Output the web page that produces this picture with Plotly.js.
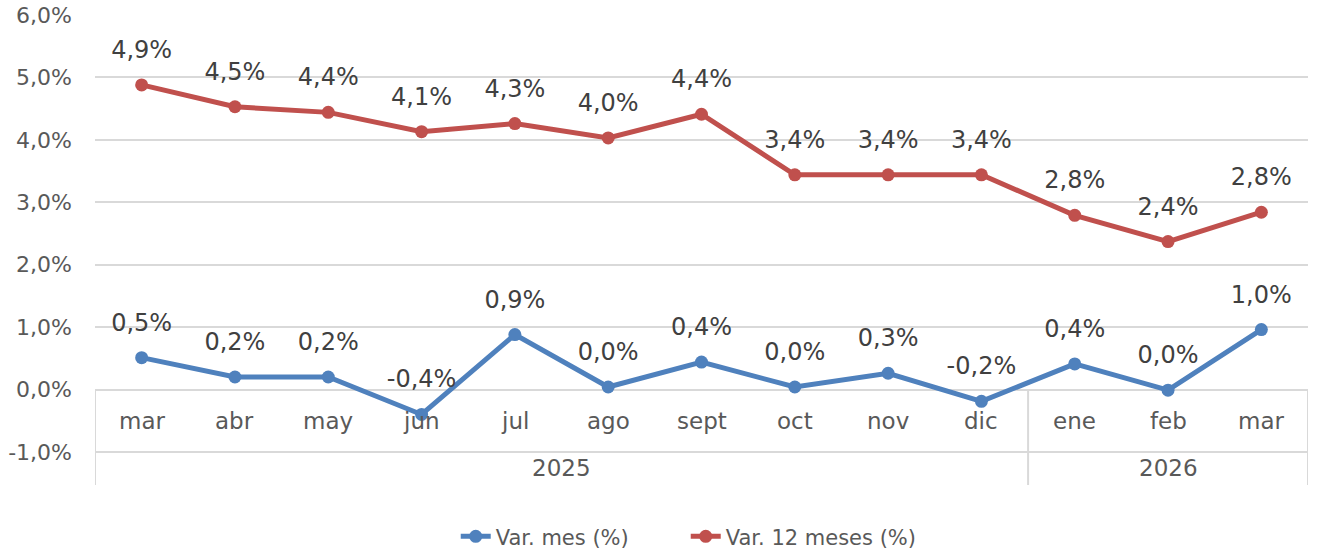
<!DOCTYPE html>
<html>
<head>
<meta charset="utf-8">
<script src="https://cdn.plot.ly/plotly-3.0.1.min.js"></script>
<style>html,body{margin:0;padding:0;background:#fff;}#chart{width:1323px;height:554px;}</style>
</head>
<body>
<div id="chart"></div>
<script>
const months = ["mar","abr","may","jun","jul","ago","sept","oct","nov","dic","ene","feb","mar"];
const years = ["2025","2025","2025","2025","2025","2025","2025","2025","2025","2025","2026","2026","2026"];
const varMes = [0.51, 0.20, 0.20, -0.40, 0.88, 0.04, 0.44, 0.04, 0.26, -0.19, 0.41, -0.01, 0.96];
const var12 = [4.88, 4.53, 4.44, 4.13, 4.26, 4.03, 4.41, 3.44, 3.44, 3.44, 2.79, 2.37, 2.84];
const yTicks = [-1, 0, 1, 2, 3, 4, 5, 6];

const fmt = v => {
  let s = v.toFixed(1);
  if (s === "-0.0") s = "0.0";
  return s.replace('.', ',') + '%';
};
const xIdx = months.map((m, i) => i);
const font = "DejaVu Sans, Verdana, sans-serif";
const textColor = "#595959";

function series(name, yv, color) {
  return [
    {
      name: name, x: xIdx, y: yv, type: "scatter", mode: "lines+markers",
      line: {color: color, width: 5}, marker: {color: color, size: 13},
      cliponaxis: false, hoverinfo: "skip"
    },
    {
      name: name + " labels", x: xIdx, y: yv, type: "scatter", mode: "markers+text",
      marker: {color: "rgba(0,0,0,0)", size: 32}, showlegend: false,
      text: yv.map(fmt), textposition: "top center",
      textfont: {family: font, size: 24, color: "#404040"}, cliponaxis: false, hoverinfo: "skip"
    }
  ];
}

const traces = [].concat(series("Var. mes (%)", varMes, "#4F81BD"), series("Var. 12 meses (%)", var12, "#C0504D"));
traces.sort((a, b) => (a.mode === "lines+markers" ? 0 : 1) - (b.mode === "lines+markers" ? 0 : 1));

const yBottom = -1.53;
const annotations = [];
months.forEach((m, i) => {
  annotations.push({x: i, y: -0.5, xref: "x", yref: "y", text: m, showarrow: false,
    font: {family: font, size: 23, color: textColor}});
});
const groups = [];
years.forEach((yv, i) => {
  const g = groups[groups.length - 1];
  if (g && g.year === yv) g.end = i; else groups.push({year: yv, start: i, end: i});
});
const shapes = [];
groups.forEach(g => {
  annotations.push({x: (g.start + g.end) / 2, y: -1.25, xref: "x", yref: "y", text: g.year,
    showarrow: false, font: {family: font, size: 23, color: textColor}});
});
const bounds = [-0.5].concat(groups.map(g => g.end + 0.5));
bounds.forEach(b => {
  shapes.push({type: "line", xref: "x", yref: "y", x0: b, x1: b, y0: 0, y1: yBottom,
    line: {color: "#D9D9D9", width: 2}, layer: "below"});
});

const layout = {
  width: 1323, height: 554,
  margin: {l: 95, r: 15, t: 15, b: 69, autoexpand: false},
  paper_bgcolor: "#fff", plot_bgcolor: "#fff",
  showlegend: true,
  legend: {orientation: "h", x: 0.487, xanchor: "center", y: -0.11, yanchor: "middle",
    entrywidth: 185, entrywidthmode: "pixels",
    font: {family: font, size: 21, color: textColor}},
  xaxis: {type: "linear", range: [-0.5, months.length - 0.5], showgrid: false, zeroline: false,
    showticklabels: false, showline: false, ticks: "", fixedrange: true},
  yaxis: {range: [yBottom, 6], tickvals: yTicks, ticktext: yTicks.map(fmt), showgrid: true,
    gridcolor: "#D9D9D9", gridwidth: 2, zeroline: false, showline: false, ticks: "",
    tickfont: {family: font, size: 22, color: textColor}, ticklabelstandoff: 22, fixedrange: true},
  annotations: annotations,
  shapes: shapes
};

Plotly.newPlot("chart", traces, layout, {displayModeBar: false, staticPlot: true});
</script>
</body>
</html>
